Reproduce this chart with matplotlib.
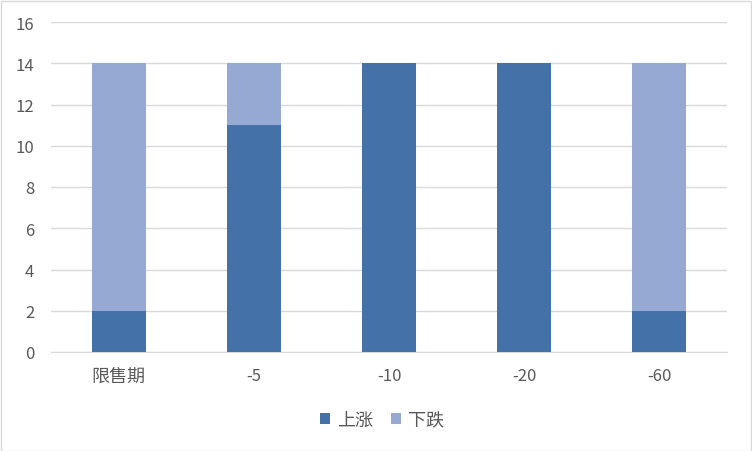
import numpy as np
import matplotlib.pyplot as plt
from matplotlib.patches import Rectangle

plt.rcParams['font.family'] = ['Noto Sans CJK SC', 'DejaVu Sans']

categories = ['限售期', '-5', '-10', '-20', '-60']
up = [2, 11, 14, 14, 2]
down = [12, 3, 0, 0, 12]

c_up = '#4472A8'
c_down = '#95A9D2'
grid_c = '#D9D9D9'
txt_c = '#595959'

fig = plt.figure(figsize=(7.52, 4.52), dpi=100)
ax = fig.add_axes([51/752, 99/452, 676/752, 330/452])

x = np.arange(len(categories))
ax.bar(x, up, width=0.4, color=c_up, label='上涨', zorder=3)
ax.bar(x, down, width=0.4, bottom=up, color=c_down, label='下跌', zorder=3)

ax.set_xlim(-0.5, len(categories) - 0.5)
ax.set_ylim(0, 16)
ax.set_yticks(range(0, 17, 2))
ax.set_xticks(x)
ax.set_xticklabels(categories)
ax.yaxis.grid(True, color=grid_c, linewidth=1)
ax.set_axisbelow(True)
for s in ['top', 'right', 'left']:
    ax.spines[s].set_visible(False)
ax.spines['bottom'].set_color(grid_c)
ax.tick_params(axis='both', length=0, colors=txt_c, labelsize=12)
ax.tick_params(axis='x', pad=11)
ax.tick_params(axis='y', pad=12)
ax.get_xticklabels()[0].set_fontsize(13)

leg = fig.legend(loc='center', bbox_to_anchor=(382/752, 1 - 421/452), ncol=2,
                 frameon=False, fontsize=13, handlelength=0.55, handleheight=0.55,
                 handletextpad=0.4, columnspacing=1.0)
for t in leg.get_texts():
    t.set_color(txt_c)

fig.patches.append(Rectangle((0.5/752, 0.5/452), 750/752, 450/452, transform=fig.transFigure,
                             fill=False, edgecolor=grid_c, linewidth=1))

fig.savefig('out.png', dpi=100)
